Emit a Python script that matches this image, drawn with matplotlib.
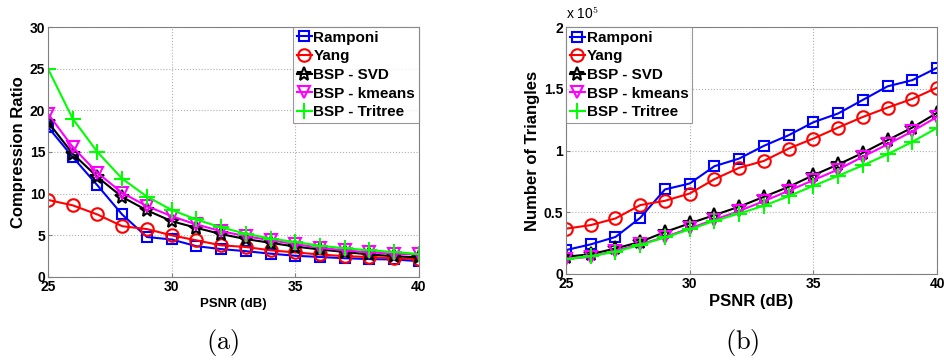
import matplotlib.pyplot as plt
import numpy as np

plt.rcParams['font.family'] = ['Liberation Sans', 'DejaVu Sans']
plt.rcParams['mathtext.fontset'] = 'cm'

# PSNR values (dB)
psnr = [25, 26, 27, 28, 29, 30, 31, 32, 33, 34, 35, 36, 37, 38, 39, 40]

# (a) compression ratio
cr_ramponi = [18.0, 14.4, 11.0, 7.5, 4.8, 4.5, 3.7, 3.35, 3.1, 2.8, 2.55, 2.4, 2.25, 2.15, 2.1, 1.9]
cr_yang = [9.25, 8.6, 7.5, 6.1, 5.75, 5.0, 4.4, 3.8, 3.6, 3.2, 2.95, 2.7, 2.5, 2.4, 2.25, 2.15]
cr_svd = [18.6, 14.8, 12.0, 9.6, 8.0, 6.7, 5.9, 5.15, 4.55, 4.1, 3.65, 3.3, 3.0, 2.7, 2.5, 2.35]
cr_kmeans = [19.6, 15.6, 12.5, 10.1, 8.5, 7.3, 6.3, 5.5, 4.9, 4.4, 3.95, 3.5, 3.2, 2.95, 2.8, 2.7]
cr_tritree = [25.0, 19.0, 15.0, 11.8, 9.65, 8.05, 6.9, 5.95, 5.2, 4.6, 4.2, 3.75, 3.45, 3.2, 3.0, 2.75]

# (b) number of triangles, in units of 1e5
tri_ramponi = [0.194, 0.24, 0.30, 0.455, 0.685, 0.733, 0.873, 0.935, 1.038, 1.124, 1.229, 1.30, 1.41, 1.52, 1.57, 1.67]
tri_yang = [0.367, 0.396, 0.45, 0.558, 0.593, 0.652, 0.768, 0.86, 0.916, 1.016, 1.097, 1.186, 1.272, 1.348, 1.418, 1.509]
tri_svd = [0.14, 0.16, 0.207, 0.26, 0.34, 0.41, 0.477, 0.545, 0.625, 0.706, 0.80, 0.887, 0.981, 1.084, 1.186, 1.305]
tri_kmeans = [0.12, 0.14, 0.19, 0.24, 0.30, 0.37, 0.44, 0.51, 0.59, 0.674, 0.76, 0.846, 0.95, 1.05, 1.156, 1.272]
tri_tritree = [0.12, 0.145, 0.18, 0.235, 0.296, 0.361, 0.43, 0.49, 0.553, 0.63, 0.714, 0.795, 0.88, 0.97, 1.07, 1.183]

labels = ['Ramponi', 'Yang', 'BSP - SVD', 'BSP - kmeans', 'BSP - Tritree']
styles = [
    dict(color=(0, 0, 1), marker='s', ms=7.5),
    dict(color=(1, 0, 0), marker='o', ms=9),
    dict(color='black', marker='*', ms=10),
    dict(color=(1, 0, 1), marker='v', ms=9),
    dict(color=(0, 1, 0), marker='+', ms=11),
]

fig = plt.figure(figsize=(9.44, 3.61), dpi=100)
ax1 = fig.add_axes([0.0508, 0.2327, 0.393, 0.6925])
ax2 = fig.add_axes([0.5996, 0.241, 0.393, 0.684])


def draw(ax, series):
    for ys, lab, st in zip(series, labels, styles):
        ax.plot(psnr, ys, color=st['color'], marker=st['marker'], ms=st['ms'],
                mfc='none', mew=1.5, lw=1.5, label=lab)
    ax.set_xlim(25, 40)
    ax.set_xticks([25, 30, 35, 40])
    ax.grid(True, linestyle=':', color='#b0b0b0', linewidth=0.8)
    ax.tick_params(direction='in', length=3, color='#808080', labelsize=10, pad=2)
    for lab in ax.get_xticklabels() + ax.get_yticklabels():
        lab.set_fontweight('bold')
    for sp in ax.spines.values():
        sp.set_color('#808080')


def legend(ax, loc):
    leg = ax.legend(loc=loc, borderaxespad=0, fancybox=False, handlelength=1.0,
                    handletextpad=0.1, borderpad=0.25, labelspacing=0.3,
                    prop=dict(weight='bold', size=11))
    leg.get_frame().set_edgecolor('#808080')
    leg.get_frame().set_linewidth(0.8)


draw(ax1, [cr_ramponi, cr_yang, cr_svd, cr_kmeans, cr_tritree])
ax1.set_ylim(0, 30)
ax1.set_yticks([0, 5, 10, 15, 20, 25, 30])
ax1.set_xlabel('PSNR (dB)', fontsize=9.5, fontweight='bold', labelpad=3)
ax1.set_ylabel('Compression Ratio', fontsize=12, fontweight='bold', labelpad=3)
legend(ax1, 'upper right')

draw(ax2, [tri_ramponi, tri_yang, tri_svd, tri_kmeans, tri_tritree])
ax2.set_ylim(0, 2)
ax2.set_yticks([0, 0.5, 1, 1.5, 2])
ax2.set_yticklabels(['0', '0.5', '1', '1.5', '2'])
for lab in ax2.get_yticklabels():
    lab.set_fontweight('bold')
ax2.set_xlabel('PSNR (dB)', fontsize=12, fontweight='bold', labelpad=2)
ax2.set_ylabel('Number of Triangles', fontsize=12, fontweight='bold', labelpad=3)
ax2.text(0.0, 1.02, r'x 10$^{\mathsf{5}}$', transform=ax2.transAxes, fontsize=10,
         ha='left', va='bottom')
legend(ax2, 'upper left')

fig.text(223 / 944, 1 - 342 / 361, '$\\mathrm{(a)}$', fontsize=19, ha='center', va='center')
fig.text(742 / 944, 1 - 342 / 361, '$\\mathrm{(b)}$', fontsize=19, ha='center', va='center')

fig.savefig('out.png', dpi=100)
